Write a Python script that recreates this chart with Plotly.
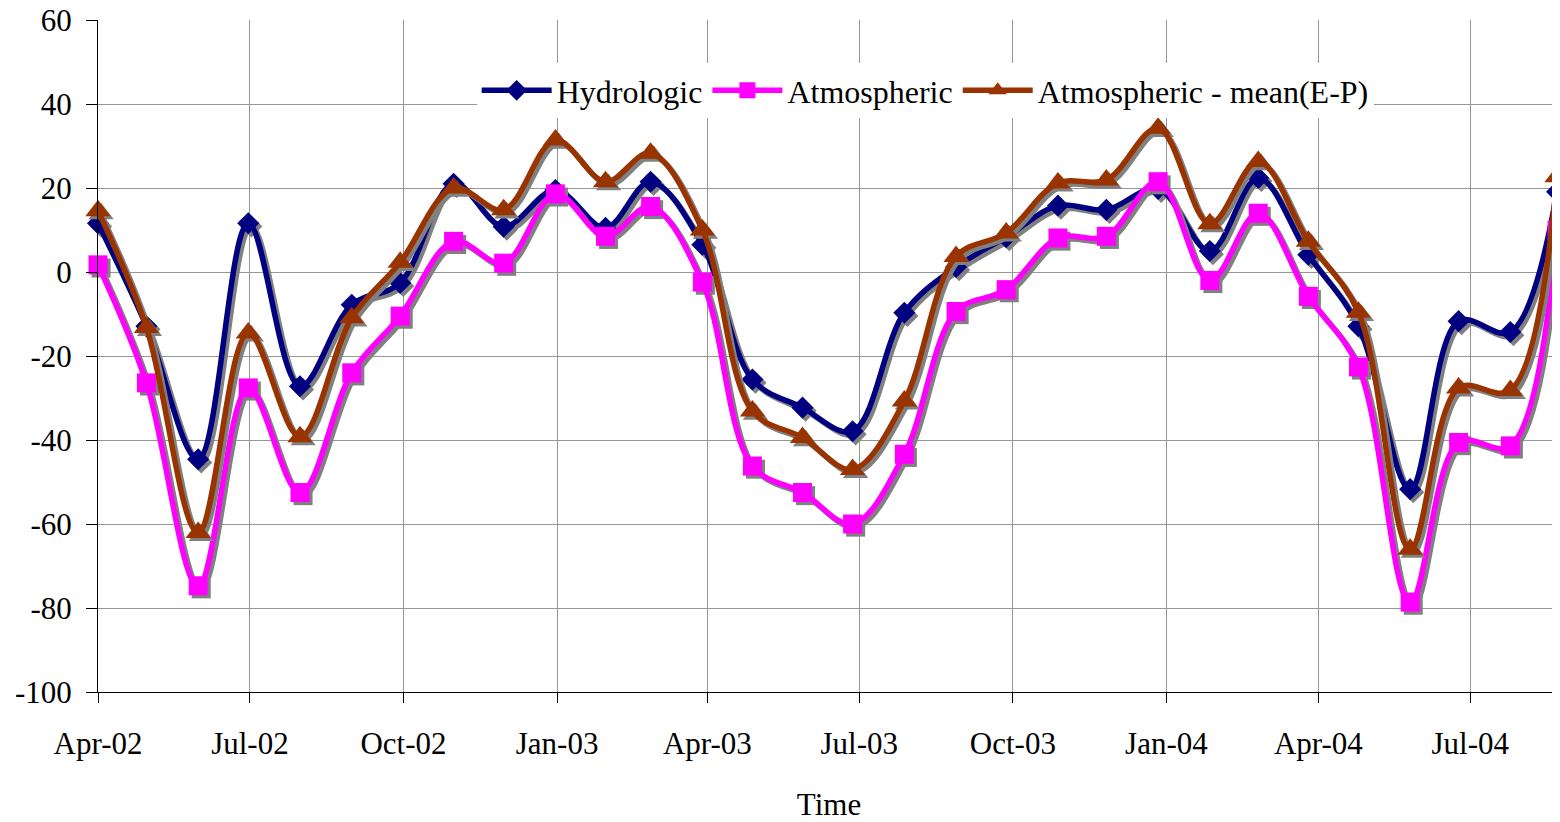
import plotly.graph_objects as go
from datetime import datetime, timedelta

# ---- data ----
dates = ["2002-04-01", "2002-04-30", "2002-05-31", "2002-06-30", "2002-07-31",
         "2002-08-31", "2002-09-29", "2002-10-31", "2002-11-30", "2002-12-31",
         "2003-01-30", "2003-02-26", "2003-03-29", "2003-04-28", "2003-05-28",
         "2003-06-27", "2003-07-28", "2003-08-28", "2003-09-27", "2003-10-28",
         "2003-11-26", "2003-12-27", "2004-01-27", "2004-02-25", "2004-03-26",
         "2004-04-25", "2004-05-26", "2004-06-24", "2004-07-25", "2004-08-22"]

hydrologic = [11.6, -12.9, -44.6, 11.6, -27.2, -7.8, -2.6, 21.0, 10.8, 19.5,
              10.5, 21.5, 6.5, -25.6, -32.3, -37.9, -9.7, 1.2, 8.3, 15.8,
              14.8, 19.8, 5.0, 22.4, 4.1, -12.9, -51.7, -11.7, -14.3, 19.1]

atmospheric = [1.7, -26.4, -74.7, -27.6, -52.5, -24.0, -10.5, 7.3, 2.1, 18.6,
               8.5, 15.6, -2.4, -46.2, -52.5, -60.0, -43.4, -9.4, -4.2, 8.1,
               8.5, 21.5, -2.0, 14.0, -5.8, -22.6, -78.6, -40.6, -41.4, 10.0]

atmos_minus_ep = [14.6, -13.2, -62.0, -14.5, -39.2, -10.9, 2.3, 20.0, 14.8, 31.4,
                  21.5, 28.3, 10.0, -33.1, -39.4, -47.0, -30.7, 3.7, 9.3, 21.2,
                  21.9, 34.2, 11.5, 26.3, 7.3, -9.6, -66.0, -27.6, -28.2, 22.7]

series_names = ["Hydrologic", "Atmospheric", "Atmospheric - mean(E-P)"]
x_title = "Time"
y_tick_values = [-100, -80, -60, -40, -20, 0, 20, 40, 60]
y_tick_labels = ["-100", "-80", "-60", "-40", "-20", "0", "20", "40", "60"]

# ---- styling ----
FONT = "Liberation Serif, Times New Roman, serif"
colors = ["#000080", "#FF00FF", "#993300"]
symbols = ["diamond", "square", "triangle-up"]
msizes = [17, 19, 22]
SHADOW = "#808080"

x_dt = [datetime.strptime(d, "%Y-%m-%d") for d in dates]
x_shadow = [d + timedelta(hours=44) for d in x_dt]

fig = go.Figure()
for name, ys, col, sym, ms in zip(series_names,
                                  [hydrologic, atmospheric, atmos_minus_ep],
                                  colors, symbols, msizes):
    fig.add_trace(go.Scatter(
        x=x_shadow, y=[v - 0.75 for v in ys], mode="lines+markers",
        line=dict(color=SHADOW, width=5.5, shape="spline", smoothing=1),
        marker=dict(symbol=sym, size=ms, color=SHADOW, line=dict(width=0)),
        showlegend=False, hoverinfo="skip", cliponaxis=False))
    fig.add_trace(go.Scatter(
        x=x_dt, y=ys, mode="lines+markers", name=name,
        line=dict(color=col, width=5.5, shape="spline", smoothing=1),
        marker=dict(symbol=sym, size=ms, color=col, line=dict(width=0)),
        cliponaxis=False))

# the page body adds an 8px offset, so the figure is sized to fill the rest
fig.update_layout(
    width=1552, height=814,
    margin=dict(l=90, r=0, t=12, b=130, autoexpand=False),
    paper_bgcolor="white", plot_bgcolor="white",
    font=dict(family=FONT, size=31, color="black"),
    legend=dict(orientation="h", x=0.259, y=0.936, xanchor="left", yanchor="top",
                bgcolor="white", borderwidth=0, font=dict(size=32),
                itemwidth=70, tracegroupgap=0),
    xaxis=dict(
        type="date", range=["2002-04-01", "2004-08-23 18:00"],
        tick0="2002-04-01", dtick="M3", tickformat="%b-%y",
        showgrid=True, gridcolor="#969696", gridwidth=1,
        showline=True, linecolor="black", linewidth=1,
        ticks="outside", ticklen=10, tickcolor="black",
        ticklabelstandoff=14, automargin=False, ticklabeloverflow="allow",
        title=dict(text=x_title, standoff=34, font=dict(size=31)),
        zeroline=False),
    yaxis=dict(
        range=[-100, 60], tickvals=y_tick_values, ticktext=y_tick_labels,
        showgrid=True, gridcolor="#969696", gridwidth=1,
        showline=True, linecolor="black", linewidth=1,
        ticks="outside", ticklen=11, tickcolor="black",
        ticklabelstandoff=8, automargin=False, ticklabeloverflow="allow",
        zeroline=False),
)

fig.write_html("out.html")
